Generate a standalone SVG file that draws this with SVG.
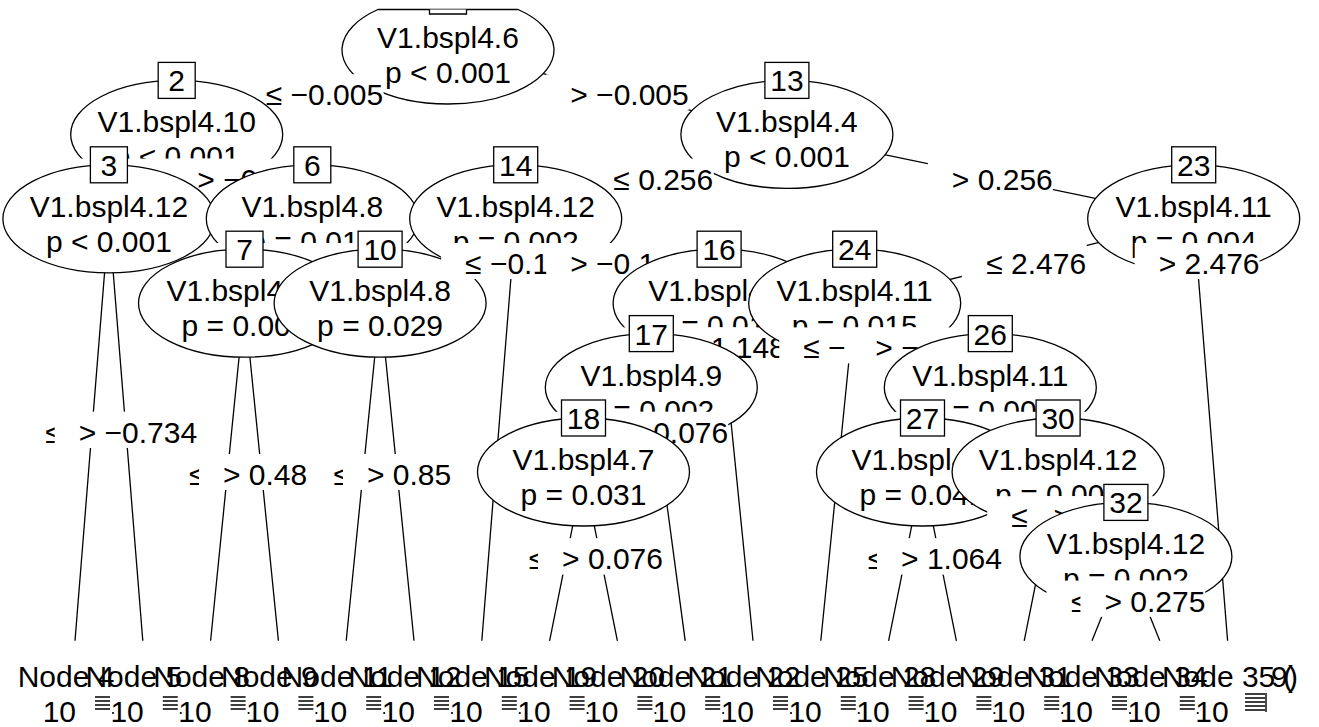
<svg xmlns="http://www.w3.org/2000/svg" width="1319" height="727" viewBox="0 0 1319 727">
  <style>
    .t { font-family: "Liberation Sans", Arial, sans-serif; font-size: 30px; fill: #000; }
    .c { text-anchor: middle; }
    .e { text-anchor: end; }
    .ell { fill: #fff; stroke: #000; stroke-width: 1.3; }
    .box { fill: #fff; stroke: #000; stroke-width: 1.3; }
    .bg { fill: #fff; stroke: none; }
    .ln { stroke: #000; stroke-width: 1.3; fill: none; }
    .mk { stroke: #000; stroke-width: 1.4; fill: none; }
  </style>
  <rect x="0" y="0" width="1319" height="727" fill="#fff"/>

  <!-- tree edges: parent centre to child centre / terminal top -->
  <g id="connectors" class="ln">
    <line x1="448" y1="50" x2="176.7" y2="134.4"/>
    <line x1="448" y1="50" x2="786.9" y2="134.4"/>
    <line x1="176.7" y1="134.4" x2="108.9" y2="218.8"/>
    <line x1="176.7" y1="134.4" x2="312.3" y2="218.8"/>
    <line x1="108.9" y1="218.8" x2="75" y2="640.8"/>
    <line x1="108.9" y1="218.8" x2="142.8" y2="640.8"/>
    <line x1="312.3" y1="218.8" x2="244.5" y2="303.2"/>
    <line x1="312.3" y1="218.8" x2="380.1" y2="303.2"/>
    <line x1="244.5" y1="303.2" x2="210.6" y2="640.8"/>
    <line x1="244.5" y1="303.2" x2="278.4" y2="640.8"/>
    <line x1="380.1" y1="303.2" x2="346.2" y2="640.8"/>
    <line x1="380.1" y1="303.2" x2="414" y2="640.8"/>
    <line x1="786.9" y1="134.4" x2="515.7" y2="218.8"/>
    <line x1="786.9" y1="134.4" x2="1193.7" y2="218.8"/>
    <line x1="515.7" y1="218.8" x2="481.8" y2="640.8"/>
    <line x1="515.7" y1="218.8" x2="719.1" y2="303.2"/>
    <line x1="719.1" y1="303.2" x2="651.3" y2="387.6"/>
    <line x1="719.1" y1="303.2" x2="753" y2="640.8"/>
    <line x1="651.3" y1="387.6" x2="583.5" y2="472"/>
    <line x1="651.3" y1="387.6" x2="685.2" y2="640.8"/>
    <line x1="583.5" y1="472" x2="549.6" y2="640.8"/>
    <line x1="583.5" y1="472" x2="617.4" y2="640.8"/>
    <line x1="1193.7" y1="218.8" x2="854.7" y2="303.2"/>
    <line x1="1193.7" y1="218.8" x2="1227.6" y2="640.8"/>
    <line x1="854.7" y1="303.2" x2="820.8" y2="640.8"/>
    <line x1="854.7" y1="303.2" x2="990.3" y2="387.6"/>
    <line x1="990.3" y1="387.6" x2="922.5" y2="472"/>
    <line x1="990.3" y1="387.6" x2="1058.1" y2="472"/>
    <line x1="922.5" y1="472" x2="888.6" y2="640.8"/>
    <line x1="922.5" y1="472" x2="956.4" y2="640.8"/>
    <line x1="1058.1" y1="472" x2="1024.2" y2="640.8"/>
    <line x1="1058.1" y1="472" x2="1125.9" y2="556.4"/>
    <line x1="1125.9" y1="556.4" x2="1092" y2="640.8"/>
    <line x1="1125.9" y1="556.4" x2="1159.8" y2="640.8"/>
  </g>

  <!-- root node, cut by the top of the plotting region -->
  <g id="node-1">
    <path class="ell" d="M 377.9 9.5 A 106 54 0 1 0 518.1 9.5 Z"/>
    <text class="t c" x="448" y="48">V1.bspl4.6</text>
    <text class="t c" x="448" y="83">p &lt; 0.001</text>
    <rect class="bg" x="429.5" y="9.5" width="37" height="4.5"/>
    <polyline class="ln" points="429.5,9.5 429.5,14 466.5,14 466.5,9.5"/>
  </g>
  <g id="edge-label-1-2"><rect class="bg" x="241.2" y="74.2" width="142.4" height="36"/><text class="t c" x="324.4" y="105.2">≤ −0.005</text></g>
  <g id="edge-label-1-13"><rect class="bg" x="546.3" y="74.2" width="142.4" height="36"/><text class="t c" x="629.5" y="105.2">&gt; −0.005</text></g>

  <g id="node-2">
    <ellipse class="ell" cx="176.7" cy="134.4" rx="106" ry="54"/>
    <text class="t c" x="176.7" y="132.4">V1.bspl4.10</text>
    <text class="t c" x="176.7" y="167.4">p &lt; 0.001</text>
    <rect class="box" x="158.2" y="62.4" width="37" height="36"/>
    <text class="t c" x="176.7" y="91.4">2</text>
  </g>
  <g id="edge-label-2-3"><rect class="bg" x="71.6" y="158.6" width="142.4" height="36"/></g>
  <g id="edge-label-2-6"><rect class="bg" x="173.3" y="158.6" width="142.4" height="36"/><text class="t" x="197.3" y="189.6">&gt; −0</text></g>

  <g id="node-3">
    <ellipse class="ell" cx="108.9" cy="218.8" rx="106" ry="54"/>
    <text class="t c" x="108.9" y="216.8">V1.bspl4.12</text>
    <text class="t c" x="108.9" y="251.8">p &lt; 0.001</text>
    <rect class="box" x="90.4" y="146.8" width="37" height="36"/>
    <text class="t c" x="108.9" y="175.8">3</text>
  </g>
  <g id="edge-label-3-4"><rect class="bg" x="20.8" y="411.8" width="142.4" height="36"/><text class="t c" x="104" y="442.8">≤ −0.734</text></g>
  <g id="edge-label-3-5"><rect class="bg" x="54.7" y="411.8" width="142.4" height="36"/><text class="t c" x="137.9" y="442.8">&gt; −0.734</text></g>

  <g id="node-6">
    <ellipse class="ell" cx="312.3" cy="218.8" rx="106" ry="54"/>
    <text class="t c" x="312.3" y="216.8">V1.bspl4.8</text>
    <text class="t c" x="312.3" y="251.8">p = 0.015</text>
    <rect class="box" x="293.8" y="146.8" width="37" height="36"/>
    <text class="t c" x="312.3" y="175.8">6</text>
  </g>
  <g id="edge-label-6-7"><rect class="bg" x="215.9" y="243" width="124.9" height="36"/></g>
  <g id="edge-label-6-10"><rect class="bg" x="283.7" y="243" width="124.9" height="36"/></g>

  <g id="node-7">
    <ellipse class="ell" cx="244.5" cy="303.2" rx="106" ry="54"/>
    <text class="t c" x="244.5" y="301.2">V1.bspl4.11</text>
    <text class="t c" x="244.5" y="336.2">p = 0.006</text>
    <rect class="box" x="226" y="231.2" width="37" height="36"/>
    <text class="t c" x="244.5" y="260.2">7</text>
  </g>
  <g id="edge-label-7-8"><rect class="bg" x="165.1" y="454" width="124.9" height="36"/><text class="t" x="189.1" y="485">≤ 0.48</text></g>
  <g id="edge-label-7-9"><rect class="bg" x="199" y="454" width="124.9" height="36"/><text class="t" x="223" y="485">&gt; 0.48</text></g>

  <g id="node-10">
    <ellipse class="ell" cx="380.1" cy="303.2" rx="106" ry="54"/>
    <text class="t c" x="380.1" y="301.2">V1.bspl4.8</text>
    <text class="t c" x="380.1" y="336.2">p = 0.029</text>
    <rect class="box" x="358.1" y="231.2" width="44" height="36"/>
    <text class="t c" x="380.1" y="260.2">10</text>
  </g>
  <g id="edge-label-10-11"><rect class="bg" x="309.1" y="454" width="108.2" height="36"/><text class="t c" x="375.2" y="485">≤ 0.85</text></g>
  <g id="edge-label-10-12"><rect class="bg" x="343" y="454" width="108.2" height="36"/><text class="t c" x="409.1" y="485">&gt; 0.85</text></g>

  <g id="node-13">
    <ellipse class="ell" cx="786.9" cy="134.4" rx="106" ry="54"/>
    <text class="t c" x="786.9" y="132.4">V1.bspl4.4</text>
    <text class="t c" x="786.9" y="167.4">p &lt; 0.001</text>
    <rect class="box" x="764.9" y="62.4" width="44" height="36"/>
    <text class="t c" x="786.9" y="91.4">13</text>
  </g>
  <g id="edge-label-13-14"><rect class="bg" x="588.9" y="158.6" width="124.9" height="36"/><text class="t c" x="663.3" y="189.6">≤ 0.256</text></g>
  <g id="edge-label-13-23"><rect class="bg" x="927.9" y="158.6" width="124.9" height="36"/><text class="t c" x="1002.3" y="189.6">&gt; 0.256</text></g>

  <g id="node-14">
    <ellipse class="ell" cx="515.7" cy="218.8" rx="106" ry="54"/>
    <text class="t c" x="515.7" y="216.8">V1.bspl4.12</text>
    <text class="t c" x="515.7" y="251.8">p = 0.002</text>
    <rect class="box" x="493.7" y="146.8" width="44" height="36"/>
    <text class="t c" x="515.7" y="175.8">14</text>
  </g>
  <g id="edge-label-14-15"><rect class="bg" x="441.1" y="243" width="142.4" height="36"/><text class="t" x="465.1" y="274">≤ −0.1</text></g>
  <g id="edge-label-14-16"><rect class="bg" x="546.2" y="243" width="142.4" height="36"/><text class="t" x="570.2" y="274">&gt; −0.1</text></g>

  <g id="node-16">
    <ellipse class="ell" cx="719.1" cy="303.2" rx="106" ry="54"/>
    <text class="t c" x="719.1" y="301.2">V1.bspl4.9</text>
    <text class="t c" x="719.1" y="336.2">p = 0.014</text>
    <rect class="box" x="697.1" y="231.2" width="44" height="36"/>
    <text class="t c" x="719.1" y="260.2">16</text>
  </g>
  <g id="edge-label-16-17"><rect class="bg" x="622.8" y="327.4" width="124.9" height="36"/></g>
  <g id="edge-label-16-22"><rect class="bg" x="660.9" y="327.4" width="124.9" height="36"/><text class="t c" x="735.3" y="358.4">&gt; 1.148</text></g>

  <g id="node-17">
    <ellipse class="ell" cx="651.3" cy="387.6" rx="106" ry="54"/>
    <text class="t c" x="651.3" y="385.6">V1.bspl4.9</text>
    <text class="t c" x="651.3" y="420.6">p = 0.002</text>
    <rect class="box" x="629.3" y="315.6" width="44" height="36"/>
    <text class="t c" x="651.3" y="344.6">17</text>
  </g>
  <g id="edge-label-17-18"><rect class="bg" x="555" y="411.8" width="124.9" height="36"/></g>
  <g id="edge-label-17-21"><rect class="bg" x="585.8" y="411.8" width="142.4" height="36"/><text class="t c" x="669" y="442.8">&gt; −0.076</text></g>

  <g id="node-18">
    <ellipse class="ell" cx="583.5" cy="472" rx="106" ry="54"/>
    <text class="t c" x="583.5" y="470">V1.bspl4.7</text>
    <text class="t c" x="583.5" y="505">p = 0.031</text>
    <rect class="box" x="561.5" y="400" width="44" height="36"/>
    <text class="t c" x="583.5" y="429">18</text>
  </g>
  <g id="edge-label-18-19"><rect class="bg" x="504.1" y="538.4" width="124.9" height="36"/><text class="t c" x="578.6" y="569.4">≤ 0.076</text></g>
  <g id="edge-label-18-20"><rect class="bg" x="538" y="538.4" width="124.9" height="36"/><text class="t c" x="612.5" y="569.4">&gt; 0.076</text></g>

  <g id="node-23">
    <ellipse class="ell" cx="1193.7" cy="218.8" rx="106" ry="54"/>
    <text class="t c" x="1193.7" y="216.8">V1.bspl4.11</text>
    <text class="t c" x="1193.7" y="251.8">p = 0.004</text>
    <rect class="box" x="1171.7" y="146.8" width="44" height="36"/>
    <text class="t c" x="1193.7" y="175.8">23</text>
  </g>
  <g id="edge-label-23-24"><rect class="bg" x="961.8" y="243" width="124.9" height="36"/><text class="t c" x="1036.2" y="274">≤ 2.476</text></g>
  <g id="edge-label-23-35"><rect class="bg" x="1134.7" y="243" width="124.9" height="36"/><text class="t c" x="1209.1" y="274">&gt; 2.476</text></g>

  <g id="node-24">
    <ellipse class="ell" cx="854.7" cy="303.2" rx="106" ry="54"/>
    <text class="t c" x="854.7" y="301.2">V1.bspl4.11</text>
    <text class="t c" x="854.7" y="336.2">p = 0.015</text>
    <rect class="box" x="832.7" y="231.2" width="44" height="36"/>
    <text class="t c" x="854.7" y="260.2">24</text>
  </g>
  <g id="edge-label-24-25"><rect class="bg" x="779.3" y="327.4" width="142.4" height="36"/><text class="t" x="803.3" y="358.4">≤ −</text></g>
  <g id="edge-label-24-26"><rect class="bg" x="851.3" y="327.4" width="142.4" height="36"/><text class="t" x="875.3" y="358.4">&gt; −</text></g>

  <g id="node-26">
    <ellipse class="ell" cx="990.3" cy="387.6" rx="106" ry="54"/>
    <text class="t c" x="990.3" y="385.6">V1.bspl4.11</text>
    <text class="t c" x="990.3" y="420.6">p = 0.003</text>
    <rect class="box" x="968.3" y="315.6" width="44" height="36"/>
    <text class="t c" x="990.3" y="344.6">26</text>
  </g>
  <g id="edge-label-26-27"><rect class="bg" x="894" y="411.8" width="124.9" height="36"/></g>
  <g id="edge-label-26-30"><rect class="bg" x="961.8" y="411.8" width="124.9" height="36"/></g>

  <g id="node-27">
    <ellipse class="ell" cx="922.5" cy="472" rx="106" ry="54"/>
    <text class="t c" x="922.5" y="470">V1.bspl4.8</text>
    <text class="t c" x="922.5" y="505">p = 0.041</text>
    <rect class="box" x="900.5" y="400" width="44" height="36"/>
    <text class="t c" x="922.5" y="429">27</text>
  </g>
  <g id="edge-label-27-28"><rect class="bg" x="843.1" y="538.4" width="124.9" height="36"/><text class="t c" x="917.6" y="569.4">≤ 1.064</text></g>
  <g id="edge-label-27-29"><rect class="bg" x="877" y="538.4" width="124.9" height="36"/><text class="t c" x="951.5" y="569.4">&gt; 1.064</text></g>

  <g id="node-30">
    <ellipse class="ell" cx="1058.1" cy="472" rx="106" ry="54"/>
    <text class="t c" x="1058.1" y="470">V1.bspl4.12</text>
    <text class="t c" x="1058.1" y="505">p = 0.003</text>
    <rect class="box" x="1036.1" y="400" width="44" height="36"/>
    <text class="t c" x="1058.1" y="429">30</text>
  </g>
  <g id="edge-label-30-31"><rect class="bg" x="987.2" y="496.2" width="124.9" height="36"/><text class="t" x="1011.2" y="527.2">≤</text></g>
  <g id="edge-label-30-32"><rect class="bg" x="1029.6" y="496.2" width="124.9" height="36"/><text class="t" x="1053.5" y="527.2">&gt;</text></g>

  <g id="node-32">
    <ellipse class="ell" cx="1125.9" cy="556.4" rx="106" ry="54"/>
    <text class="t c" x="1125.9" y="554.4">V1.bspl4.12</text>
    <text class="t c" x="1125.9" y="589.4">p = 0.002</text>
    <rect class="box" x="1103.9" y="484.4" width="44" height="36"/>
    <text class="t c" x="1125.9" y="513.4">32</text>
  </g>
  <g id="edge-label-32-33"><rect class="bg" x="1046.5" y="580.6" width="124.9" height="36"/><text class="t c" x="1121" y="611.6">≤ 0.275</text></g>
  <g id="edge-label-32-34"><rect class="bg" x="1080.4" y="580.6" width="124.9" height="36"/><text class="t c" x="1154.9" y="611.6">&gt; 0.275</text></g>

  <!-- terminal node headers along the bottom -->
  <g id="terminals">
    <g id="node-4"><text class="t c" x="66" y="687">Node 4</text><text class="t e" x="76" y="722">10</text></g>
    <g id="node-5"><text class="t c" x="133.8" y="687">Node 5</text><text class="t e" x="143.8" y="722">10</text></g>
    <g id="node-8"><text class="t c" x="201.6" y="687">Node 8</text><text class="t e" x="211.6" y="722">10</text></g>
    <g id="node-9"><text class="t c" x="269.4" y="687">Node 9</text><text class="t e" x="279.4" y="722">10</text></g>
    <g id="node-11"><text class="t c" x="337.2" y="687">Node 11</text><text class="t e" x="347.2" y="722">10</text></g>
    <g id="node-12"><text class="t c" x="405" y="687">Node 12</text><text class="t e" x="415" y="722">10</text></g>
    <g id="node-15"><text class="t c" x="472.8" y="687">Node 15</text><text class="t e" x="482.8" y="722">10</text></g>
    <g id="node-19"><text class="t c" x="540.6" y="687">Node 19</text><text class="t e" x="550.6" y="722">10</text></g>
    <g id="node-20"><text class="t c" x="608.4" y="687">Node 20</text><text class="t e" x="618.4" y="722">10</text></g>
    <g id="node-21"><text class="t c" x="676.2" y="687">Node 21</text><text class="t e" x="686.2" y="722">10</text></g>
    <g id="node-22"><text class="t c" x="744" y="687">Node 22</text><text class="t e" x="754" y="722">10</text></g>
    <g id="node-25"><text class="t c" x="811.8" y="687">Node 25</text><text class="t e" x="821.8" y="722">10</text></g>
    <g id="node-28"><text class="t c" x="879.6" y="687">Node 28</text><text class="t e" x="889.6" y="722">10</text></g>
    <g id="node-29"><text class="t c" x="947.4" y="687">Node 29</text><text class="t e" x="957.4" y="722">10</text></g>
    <g id="node-31"><text class="t c" x="1015.2" y="687">Node 31</text><text class="t e" x="1025.2" y="722">10</text></g>
    <g id="node-33"><text class="t c" x="1083" y="687">Node 33</text><text class="t e" x="1093" y="722">10</text></g>
    <g id="node-34"><text class="t c" x="1150.8" y="687">Node 34</text><text class="t e" x="1160.8" y="722">10</text></g>
    <g id="node-35">
      <text class="t c" x="1218.6" y="687">Node 35</text><text class="t e" x="1228.6" y="722">10</text>
      <text class="t" x="1271" y="687">9</text>
      <text class="t" x="1283" y="687">(</text>
      <text class="t" x="1288" y="687">)</text>
    </g>
    <!-- squeezed tick marks under each header -->
    <g class="mk">
      <path d="M95 697h15M95 701h15M95 705h15M95 709h15"/>
      <path d="M162.8 697h15M162.8 701h15M162.8 705h15M162.8 709h15"/>
      <path d="M230.6 697h15M230.6 701h15M230.6 705h15M230.6 709h15"/>
      <path d="M298.4 697h15M298.4 701h15M298.4 705h15M298.4 709h15"/>
      <path d="M366.2 697h15M366.2 701h15M366.2 705h15M366.2 709h15"/>
      <path d="M434 697h15M434 701h15M434 705h15M434 709h15"/>
      <path d="M501.8 697h15M501.8 701h15M501.8 705h15M501.8 709h15"/>
      <path d="M569.6 697h15M569.6 701h15M569.6 705h15M569.6 709h15"/>
      <path d="M637.4 697h15M637.4 701h15M637.4 705h15M637.4 709h15"/>
      <path d="M705.2 697h15M705.2 701h15M705.2 705h15M705.2 709h15"/>
      <path d="M773 697h15M773 701h15M773 705h15M773 709h15"/>
      <path d="M840.8 697h15M840.8 701h15M840.8 705h15M840.8 709h15"/>
      <path d="M908.6 697h15M908.6 701h15M908.6 705h15M908.6 709h15"/>
      <path d="M976.4 697h15M976.4 701h15M976.4 705h15M976.4 709h15"/>
      <path d="M1044.2 697h15M1044.2 701h15M1044.2 705h15M1044.2 709h15"/>
      <path d="M1112 697h15M1112 701h15M1112 705h15M1112 709h15"/>
      <path d="M1179.8 697h15M1179.8 701h15M1179.8 705h15M1179.8 709h15"/>
      <path d="M1245 694h20M1245 698h20M1245 702h20M1245 706h20M1245 710h20M1266 693v19"/>
    </g>
    <g fill="#000">
      <circle cx="113" cy="713" r="1.1"/><circle cx="180.8" cy="713" r="1.1"/><circle cx="248.6" cy="713" r="1.1"/>
      <circle cx="316.4" cy="713" r="1.1"/><circle cx="384.2" cy="713" r="1.1"/><circle cx="452" cy="713" r="1.1"/>
      <circle cx="519.8" cy="713" r="1.1"/><circle cx="587.6" cy="713" r="1.1"/><circle cx="655.4" cy="713" r="1.1"/>
      <circle cx="723.2" cy="713" r="1.1"/><circle cx="791" cy="713" r="1.1"/><circle cx="858.8" cy="713" r="1.1"/>
      <circle cx="926.6" cy="713" r="1.1"/><circle cx="994.4" cy="713" r="1.1"/><circle cx="1062.2" cy="713" r="1.1"/>
      <circle cx="1130" cy="713" r="1.1"/><circle cx="1197.8" cy="713" r="1.1"/>
    </g>
  </g>
</svg>
